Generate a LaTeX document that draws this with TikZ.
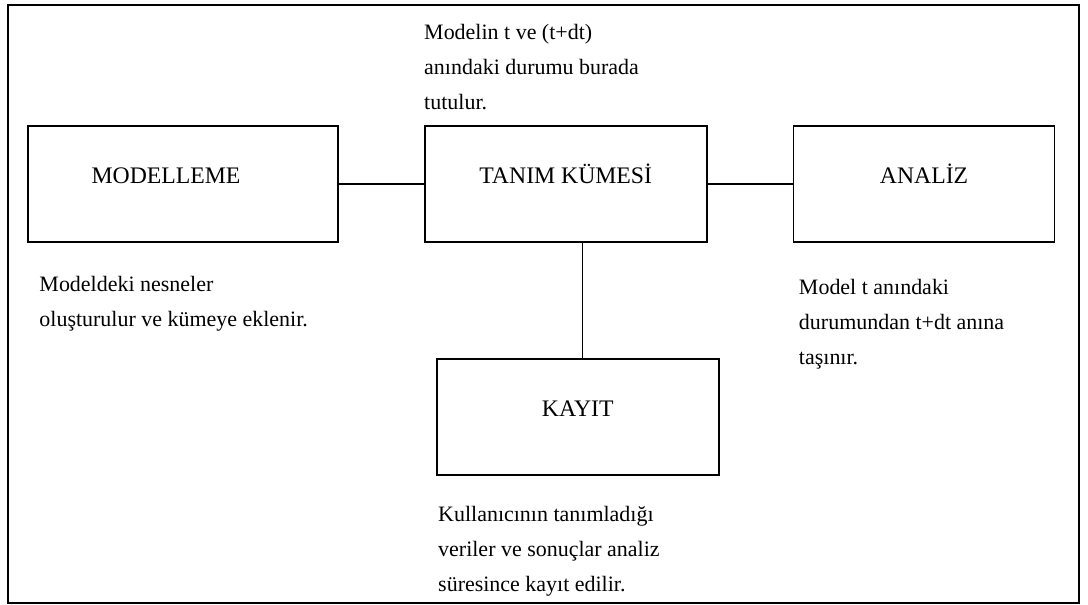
\documentclass[tikz,border=0pt]{standalone}
\usepackage{fontspec}
\setmainfont{Liberation Serif}
\usetikzlibrary{positioning}

\begin{document}
\begin{tikzpicture}[
  node distance=1.7cm and 1.7cm,
  every node/.style={font=\fontsize{12.5}{20}\selectfont},
  box/.style={draw, line width=1pt, minimum height=2.32cm, text height=0.32cm, text depth=0.32cm,
    font=\fontsize{13.5}{20}\selectfont},
  note/.style={align=left, inner sep=0pt},
  line/.style={line width=0.8pt}
]

% Frame
\useasboundingbox (0,0) rectangle (21.76,-12.1);
\draw[line width=1.1pt] (0.16,-0.1) rectangle (21.58,-12.06);

% Top row
\node[box, minimum width=6.2cm] (modelleme) at (3.66,-3.68) {\hspace*{-0.68cm}MODELLEME};
\node[box, minimum width=5.64cm, right=of modelleme] (tanim) {TANIM KÜMESİ};
\node[box, minimum width=5.22cm, right=of tanim] (analiz) {ANALİZ};

% Bottom
\node[box, minimum width=5.64cm, below=2.3cm of tanim, xshift=0.24cm] (kayit) {KAYIT};

% Notes
\node[note, above right=0.3cm and 0cm of tanim.north west] (tanimnote) {Modelin t ve (t+dt)\\anındaki durumu burada\\tutulur.};
\node[note, below right=0.66cm and 0.24cm of modelleme.south west] (modellemenote) {Modeldeki nesneler\\oluşturulur ve kümeye eklenir.};
\node[note, below right=0.72cm and 0.12cm of analiz.south west] (analiznote) {Model t anındaki\\durumundan t+dt anına\\taşınır.};
\node[note, below right=0.6cm and 0.04cm of kayit.south west] (kayitnote) {Kullanıcının tanımladığı\\veriler ve sonuçlar analiz\\süresince kayıt edilir.};

% Lines
\draw[line] (modelleme) -- (tanim);
\draw[line] (tanim) -- (analiz);
\draw[line] ([xshift=0.1cm]kayit.north) -- ([xshift=0.1cm]kayit.north |- tanim.south);

\end{tikzpicture}
\end{document}
